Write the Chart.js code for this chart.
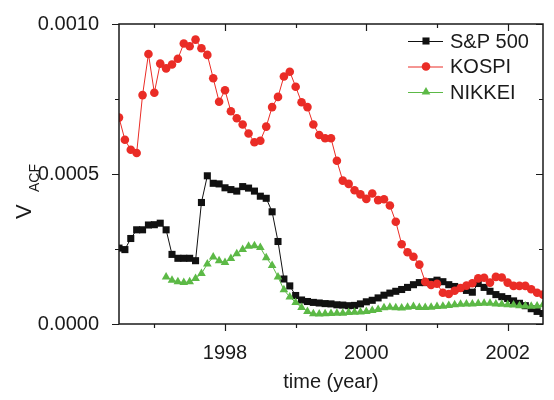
<!DOCTYPE html>
<html>
<head>
<meta charset="utf-8">
<script src="https://cdn.jsdelivr.net/npm/chart.js@4.4.1/dist/chart.umd.min.js"></script>
<style>
  html, body { margin: 0; padding: 0; background: #fff; }
</style>
</head>
<body>
<canvas id="c" width="554" height="400"></canvas>
<script>
// monthly samples starting mid-1996
const T0 = 1996.5;
const NIKKEI_START = 8; // first NIKKEI point is 8 months later

const sp500 = [
  0.000253, 0.000248, 0.000285, 0.000314, 0.000314, 0.000330, 0.000331, 0.000336, 0.000314, 0.000232,
  0.000219, 0.000219, 0.000219, 0.000211, 0.000405, 0.000494, 0.000469, 0.000467, 0.000454, 0.000448,
  0.000443, 0.000458, 0.000453, 0.000443, 0.000426, 0.000419, 0.000374, 0.000275, 0.000150, 0.000127,
  0.000095, 0.000080, 0.000075, 0.000072, 0.000070, 0.000068, 0.000067, 0.000064, 0.000063, 0.000061,
  0.000062, 0.000067, 0.000074, 0.000079, 0.000087, 0.000096, 0.000103, 0.000109, 0.000115, 0.000122,
  0.000131, 0.000138, 0.000138, 0.000141, 0.000146, 0.000141, 0.000131, 0.000125, 0.000119, 0.000112,
  0.000106, 0.000135, 0.000122, 0.000109, 0.000098, 0.000091, 0.000085, 0.000077, 0.000069, 0.000061,
  0.000051, 0.000042, 0.000035
];
const kospi = [
  0.000688, 0.000614, 0.000581, 0.000570, 0.000763, 0.000900, 0.000771, 0.000868, 0.000852, 0.000865,
  0.000884, 0.000935, 0.000926, 0.000948, 0.000919, 0.000897, 0.000819, 0.000741, 0.000779, 0.000709,
  0.000686, 0.000665, 0.000635, 0.000606, 0.000611, 0.000658, 0.000723, 0.000757, 0.000825, 0.000841,
  0.000791, 0.000739, 0.000723, 0.000665, 0.000630, 0.000619, 0.000619, 0.000544, 0.000478, 0.000467,
  0.000446, 0.000432, 0.000417, 0.000435, 0.000413, 0.000416, 0.000395, 0.000341, 0.000266, 0.000239,
  0.000224, 0.000198, 0.000141, 0.000130, 0.000134, 0.000104, 0.000100, 0.000111, 0.000120, 0.000128,
  0.000136, 0.000152, 0.000154, 0.000138, 0.000157, 0.000155, 0.000138, 0.000127, 0.000127, 0.000127,
  0.000116, 0.000104, 0.000098
];
const nikkei = [
  0.000157, 0.000146, 0.000141, 0.000138, 0.000141, 0.000152, 0.000168, 0.000200, 0.000223, 0.000211,
  0.000205, 0.000218, 0.000234, 0.000248, 0.000259, 0.000261, 0.000255, 0.000221, 0.000195, 0.000157,
  0.000114, 0.000090, 0.000072, 0.000055, 0.000042, 0.000034, 0.000033, 0.000034, 0.000035, 0.000036,
  0.000036, 0.000038, 0.000039, 0.000040, 0.000042, 0.000045, 0.000048, 0.000054, 0.000056, 0.000054,
  0.000053, 0.000056, 0.000058, 0.000055, 0.000055, 0.000056, 0.000058, 0.000059, 0.000062, 0.000064,
  0.000066, 0.000067, 0.000067, 0.000068, 0.000069, 0.000069, 0.000067, 0.000066, 0.000064, 0.000063,
  0.000061, 0.000060, 0.000059, 0.000060, 0.000064
];

const xTicks = [1998, 2000, 2002];
const xMinor = [1997, 1999, 2001];
const yTicks = [0, 0.0005, 0.001];
const yMinor = [0.00025, 0.00075];

const BLACK = '#111111', RED = '#ea2c26', GREEN = '#5cb946';
const FONT = '"Liberation Sans", Arial, sans-serif';
const TEXT = '#1a1a1a';

const toPts = (arr, start) => arr.map((v, i) => ({ x: T0 + (start + i) / 12, y: v }));

const series = [
  { label: 'S&P 500', data: sp500, start: 0, color: BLACK, style: 'rect', r: 5, order: 3 },
  { label: 'KOSPI', data: kospi, start: 0, color: RED, style: 'circle', r: 4.3, order: 2 },
  { label: 'NIKKEI', data: nikkei, start: NIKKEI_START, color: GREEN, style: 'triangle', r: 5, order: 1 },
];

// frame with origin-style ticks (outside on bottom/left, inside on top/right)
const framePlugin = {
  id: 'frame',
  afterDraw(chart) {
    const { ctx, chartArea: a, scales: { x, y } } = chart;
    ctx.save();
    ctx.strokeStyle = '#1a1a1a';
    ctx.lineWidth = 1.2;
    ctx.beginPath();
    const tx = (v, len) => {
      const p = Math.round(x.getPixelForValue(v)) + 0.5;
      ctx.moveTo(p, a.bottom); ctx.lineTo(p, a.bottom + len);
      ctx.moveTo(p, a.top); ctx.lineTo(p, a.top + len);
    };
    const ty = (v, len) => {
      const p = Math.round(y.getPixelForValue(v)) + 0.5;
      ctx.moveTo(a.left, p); ctx.lineTo(a.left - len, p);
      ctx.moveTo(a.right, p); ctx.lineTo(a.right - len, p);
    };
    xTicks.forEach(v => tx(v, 7));
    xMinor.forEach(v => tx(v, 4));
    yTicks.forEach(v => ty(v, 7));
    yMinor.forEach(v => ty(v, 4));
    ctx.stroke();
    ctx.lineWidth = 1.5;
    ctx.strokeRect(a.left, a.top, a.right - a.left, a.bottom - a.top);

    // y title: V with subscript ACF, rotated
    ctx.fillStyle = TEXT;
    ctx.textAlign = 'left';
    ctx.textBaseline = 'alphabetic';
    ctx.translate(31, 219);
    ctx.rotate(-Math.PI / 2);
    ctx.font = '22px ' + FONT;
    ctx.fillText('V', 0, 0);
    ctx.font = '14px ' + FONT;
    ctx.fillText('ACF', 27, 8);
    ctx.restore();

    // legend
    ctx.save();
    const rows = [41, 66.5, 92];
    series.forEach((s, i) => {
      const yy = rows[i];
      ctx.strokeStyle = s.color;
      ctx.lineWidth = 1;
      ctx.beginPath();
      ctx.moveTo(408, yy + 0.5); ctx.lineTo(443, yy + 0.5);
      ctx.stroke();
      ctx.fillStyle = s.color;
      Chart.helpers.drawPoint(ctx, { pointStyle: s.style, radius: s.r, borderWidth: 0, rotation: 0 }, 426, yy);
      ctx.fillStyle = TEXT;
      ctx.font = '20px ' + FONT;
      ctx.textBaseline = 'middle';
      ctx.fillText(s.label, 450, yy + 1);
    });
    ctx.restore();
  }
};

new Chart(document.getElementById('c'), {
  type: 'line',
  data: {
    datasets: series.map(s => ({
      label: s.label,
      data: toPts(s.data, s.start),
      borderColor: s.color,
      backgroundColor: s.color,
      pointBackgroundColor: s.color,
      pointStyle: s.style,
      pointRadius: s.r,
      pointBorderWidth: 0,
      borderWidth: 1,
      tension: 0,
      clip: 0,
      order: s.order,
    }))
  },
  options: {
    responsive: false,
    animation: false,
    devicePixelRatio: 1,
    layout: { padding: { left: 0, top: 12, right: 11, bottom: 0 } },
    plugins: { legend: { display: false }, tooltip: { enabled: false } },
    scales: {
      x: {
        type: 'linear', min: 1996.5, max: 2002.5,
        grid: { display: false }, border: { display: false },
        afterBuildTicks: s => { s.ticks = xTicks.map(v => ({ value: v })); },
        afterFit: s => { s.height = 76; },
        ticks: { font: { size: 20, family: FONT }, color: TEXT, padding: 9, maxRotation: 0, autoSkip: false, callback: v => String(v) },
        title: { display: true, text: 'time (year)', font: { size: 20, family: FONT }, color: TEXT, padding: { top: 0, bottom: 6 } }
      },
      y: {
        type: 'linear', min: 0, max: 0.001,
        grid: { display: false }, border: { display: false },
        afterBuildTicks: s => { s.ticks = yTicks.map(v => ({ value: v })); },
        afterFit: s => { s.width = 119; },
        ticks: { font: { size: 20, family: FONT }, color: TEXT, padding: 12, autoSkip: false, callback: v => v.toFixed(4) }
      }
    }
  },
  plugins: [framePlugin]
});
</script>
</body>
</html>
